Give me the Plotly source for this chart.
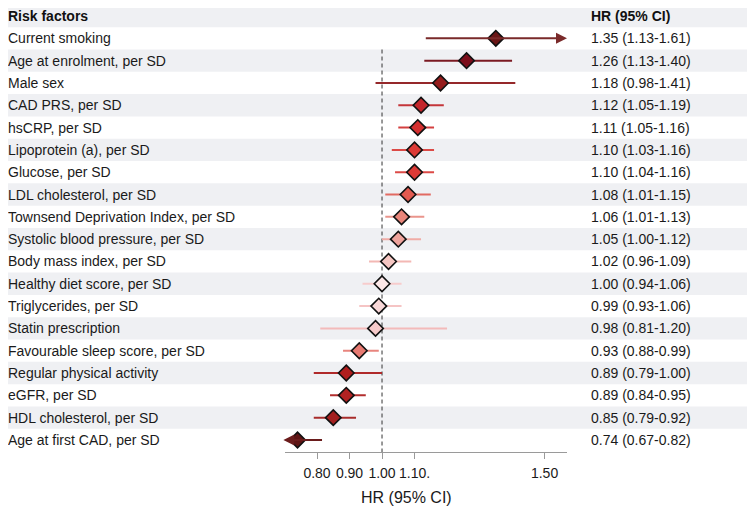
import plotly.graph_objects as go

# ---------------- data ----------------
factors = [
    "Current smoking", "Age at enrolment, per SD", "Male sex", "CAD PRS, per SD",
    "hsCRP, per SD", "Lipoprotein (a), per SD", "Glucose, per SD",
    "LDL cholesterol, per SD", "Townsend Deprivation Index, per SD",
    "Systolic blood pressure, per SD", "Body mass index, per SD",
    "Healthy diet score, per SD", "Triglycerides, per SD", "Statin prescription",
    "Favourable sleep score, per SD", "Regular physical activity", "eGFR, per SD",
    "HDL cholesterol, per SD", "Age at first CAD, per SD",
]
hr = [1.35, 1.26, 1.18, 1.12, 1.11, 1.10, 1.10, 1.08, 1.06, 1.05, 1.02, 1.00,
      0.99, 0.98, 0.93, 0.89, 0.89, 0.85, 0.74]
ci_low = [1.13, 1.13, 0.98, 1.05, 1.05, 1.03, 1.04, 1.01, 1.01, 1.00, 0.96, 0.94,
          0.93, 0.81, 0.88, 0.79, 0.84, 0.79, 0.67]
ci_high = [1.61, 1.40, 1.41, 1.19, 1.16, 1.16, 1.16, 1.15, 1.13, 1.12, 1.09, 1.06,
           1.06, 1.20, 0.99, 1.00, 0.95, 0.92, 0.82]
tick_vals = [0.80, 0.90, 1.00, 1.10, 1.50]
tick_text = ["0.80", "0.90", "1.00", "1.10.", "1.50"]

# ---------------- styles ----------------
fill_colors = ["#6a1616", "#7b0d1b", "#951c1c", "#c4262b", "#d42f2f", "#dc3a36",
               "#dc3a36", "#e25a50", "#e8857a", "#eea39c", "#f5c6c2", "#fde8e8",
               "#f9d8d8", "#f6caca", "#e77a72", "#b01e1e", "#b22222", "#a3201f",
               "#5e1414"]
line_colors = ["#7a2a2a", "#7b1a22", "#95282a", "#c4363a", "#d44040", "#dc4a46",
               "#dc4a46", "#e26a62", "#ea958c", "#f0aca6", "#f3b8b4", "#f7cccc",
               "#f5c4c4", "#f3baba", "#e8857e", "#b02a2a", "#b22e2e", "#a82c2b",
               "#6a1c1c"]

FONT = "Liberation Sans, Arial, Helvetica, sans-serif"
# page body has an 8px margin, so the figure is 8px smaller than the window
W, H = 747, 503
PLOT_H = 444
X_RANGE = [0.7015, 1.569]
Y_RANGE = [19.54, -0.36]
n = len(factors)
rows = list(range(1, n + 1))

fig = go.Figure()

shapes = []
for i in range(0, n + 1, 2):
    shapes.append(dict(type="rect", xref="paper", yref="y", x0=0, x1=0.993,
                       y0=i - 0.5, y1=i + 0.5, fillcolor="#eff0f3",
                       line=dict(width=0), layer="below"))
shapes.append(dict(type="line", xref="x", yref="y", x0=1, x1=1, y0=1.5,
                   y1=Y_RANGE[0], line=dict(color="#333333", width=1, dash="4px,3px"),
                   layer="below"))

annotations = []
for i in range(n):
    y = rows[i]
    lo, hi = ci_low[i], ci_high[i]
    if hi > X_RANGE[1]:
        annotations.append(dict(x=X_RANGE[1], y=y, ax=lo, ay=y, xref="x", yref="y",
                                axref="x", ayref="y", text="", showarrow=True,
                                arrowhead=2, arrowsize=1.1, arrowwidth=2,
                                arrowcolor=line_colors[i]))
    elif lo < X_RANGE[0]:
        annotations.append(dict(x=X_RANGE[0] - 0.005, y=y, ax=hi, ay=y, xref="x", yref="y",
                                axref="x", ayref="y", text="", showarrow=True,
                                arrowhead=2, arrowsize=1.1, arrowwidth=2,
                                arrowcolor=line_colors[i]))
    else:
        fig.add_trace(go.Scatter(x=[lo, hi], y=[y, y], mode="lines",
                                 line=dict(color=line_colors[i], width=2),
                                 hoverinfo="skip", showlegend=False))

fig.add_trace(go.Scatter(
    x=hr, y=rows, mode="markers",
    marker=dict(symbol="diamond", size=12, color=fill_colors,
                line=dict(color="#111111", width=1.6)),
    cliponaxis=False, showlegend=False, hoverinfo="skip"))

annotations.append(dict(x=0, y=0, xref="paper", yref="y", text="<b>Risk factors</b>",
                        showarrow=False, xanchor="left", yanchor="middle", xshift=-2,
                        font=dict(family=FONT, size=14, color="#111111")))
annotations.append(dict(x=583 / W, y=0, xref="paper", yref="y", text="<b>HR (95% CI)</b>",
                        showarrow=False, xanchor="left", yanchor="middle", xshift=-2,
                        font=dict(family=FONT, size=14, color="#111111")))
for i in range(n):
    annotations.append(dict(x=0, y=rows[i], xref="paper", yref="y", text=factors[i],
                            showarrow=False, xanchor="left", yanchor="middle", xshift=-2,
                            font=dict(family=FONT, size=14, color="#1a1a1a")))
    annotations.append(dict(x=583 / W, y=rows[i], xref="paper", yref="y",
                            text=f"{hr[i]:.2f} ({ci_low[i]:.2f}-{ci_high[i]:.2f})",
                            showarrow=False, xanchor="left", yanchor="middle", xshift=-2,
                            font=dict(family=FONT, size=14, color="#1a1a1a")))
annotations.append(dict(x=398 / W, y=-45 / PLOT_H, xref="paper", yref="paper",
                        text="HR (95% CI)", showarrow=False, xanchor="center",
                        yanchor="middle", font=dict(family=FONT, size=16, color="#1a1a1a")))

fig.update_layout(
    width=W, height=H,
    margin=dict(l=0, r=0, t=0, b=H - PLOT_H),
    paper_bgcolor="white", plot_bgcolor="rgba(0,0,0,0)",
    shapes=shapes, annotations=annotations,
    xaxis=dict(domain=[277 / W, 559 / W], range=X_RANGE, showgrid=False,
               zeroline=False, showline=True, linecolor="#9a9a9a", linewidth=1,
               ticks="outside", ticklen=6, tickcolor="#9a9a9a",
               ticklabelstandoff=2,
               tickvals=tick_vals, ticktext=tick_text,
               tickfont=dict(family=FONT, size=14, color="#1a1a1a")),
    yaxis=dict(range=Y_RANGE, showgrid=False, zeroline=False, showticklabels=False,
               showline=False, ticks=""),
)

fig.write_html("out.html")
